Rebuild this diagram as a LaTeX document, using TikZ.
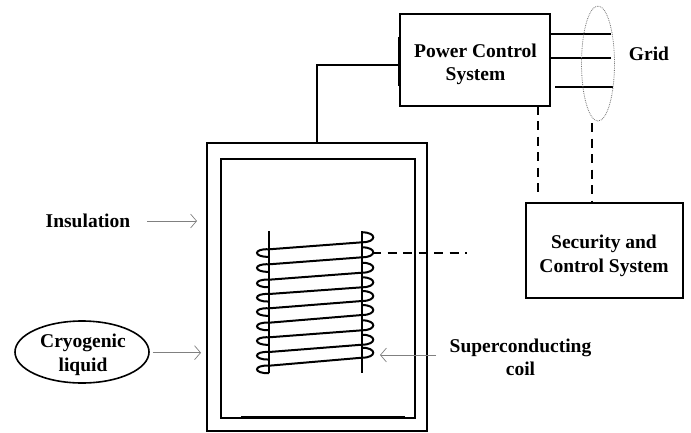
\documentclass[tikz,border=0pt]{standalone}
\usepackage{fontspec}
\usepackage{tikz}
\usetikzlibrary{arrows.meta}
\usetikzlibrary{shapes.geometric}
\setmainfont{Liberation Serif}

\tikzset{
    blockbox/.style={draw, line width=2pt, rectangle, inner sep=0pt, outer sep=0pt},
    heavyline/.style={line width=2pt},
    signalline/.style={line width=2pt, dash pattern=on 9pt off 6.5pt},
    pointer/.style={draw=black!50, line width=0.7pt, -{Straight Barb[length=6pt,width=14pt]}},
    labeltext/.style={font=\fontsize{19.5}{23.5}\selectfont\bfseries, align=center, inner sep=0pt}
}

\begin{document}
\begin{tikzpicture}[x=1pt, y=-1pt]

        \useasboundingbox (0, 0) rectangle (691, 432);

        % Vessel walls, the outer one holds the insulation
        \begin{scope}
            \node[blockbox, minimum width=220pt, minimum height=288pt] (outerbox) at (317, 287) {};
            \node[blockbox, minimum width=194pt, minimum height=259pt] (innerbox) at (318, 288.5) {};
            \draw[line width=2.6pt] (241, 417.5) -- (405, 417.5);
        \end{scope}

        % Blocks on the right, the text sits low in them
        \node[blockbox, minimum width=150pt, minimum height=92pt] (powerbox) at (475, 59.5) {};
        \node[labeltext] (powerlabel) at (475.5, 64.5) {Power Control\\System};
        \node[blockbox, minimum width=157pt, minimum height=95pt] (securitybox) at (604, 250) {};
        \node[labeltext] (securitylabel) at (604, 256) {Security and\\Control System};

        \coordinate (feed) at (400, 65);
        \draw[heavyline] (outerbox.north) |- (feed);
        \draw[heavyline] (399, 37) -- (399, 86);

        % Three phase lines with the ring round them
        \coordinate (G1) at (611, 33.5);
        \coordinate (G2) at (611, 58);
        \coordinate (G3) at (613, 86.5);
        \draw[heavyline] (powerbox.east |- G1) -- (G1);
        \draw[heavyline] (powerbox.east |- G2) -- (G2);
        \draw[heavyline] (555, 86.5) -- (G3);
        \node[ellipse, draw=black!55, densely dotted, line width=0.8pt, minimum width=33pt, minimum height=115pt, inner sep=0pt] (gridring) at (598, 63.5) {};
        \node[labeltext] (gridlabel) at (649, 53.5) {Grid};

        % Signal lines
        \coordinate (S1) at (538, 198);
        \coordinate (S2) at (592, 123);
        \coordinate (S3) at (467, 253);
        \coordinate (S4) at (372, 253);
        \draw[signalline] (powerbox.south -| S1) -- (S1);
        \draw[signalline] (S2) -- (securitybox.north -| S2);
        \draw[signalline] (S4) -- (S3);

        % Coil: two rods, the wires between them, the loops round them
        \begin{scope}[line width=2pt]
            \draw (269, 231) -- (269, 373);
            \draw (362, 231) -- (362, 373);
            \foreach \yl/\yr in {249.3/242.3, 264.3/257.3, 279.7/272.7, 294/287.3, 308.3/301, 322.7/315, 337.3/330.3, 352/344.7, 365.7/357.7} {
                \draw (269, \yl) -- (362, \yr);
                \draw (269, \yl) .. controls (253, \yl-1) and (253, \yl+8) .. (269, \yl+7.5);
                \draw (362, \yr-10) .. controls (377, \yr-10) and (377, \yr) .. (362, \yr);
            }
        \end{scope}

        % Labels and their pointers
        \node[labeltext] (insulation) at (88, 221) {Insulation};
        \coordinate (insulationtip) at (197, 221);
        \draw[pointer] (147, 221) -- (insulationtip);

        \node[ellipse, draw, line width=1.6pt, minimum width=134pt, minimum height=62pt] (cryogenic) at (82, 352) {};
        \node[labeltext] (cryogeniclabel) at (83, 355) {Cryogenic\\liquid};
        \coordinate (cryogenictip) at (201, 352.7);
        \draw[pointer] (cryogenic.east |- cryogenictip) ++(3, 0) -- (cryogenictip);

        \node[labeltext] (coillabel) at (520.5, 357.5) {Superconducting\\coil};
        \coordinate (coiltip) at (380, 355);
        \draw[pointer] (436, 355) -- (coiltip);

\end{tikzpicture}
\end{document}
